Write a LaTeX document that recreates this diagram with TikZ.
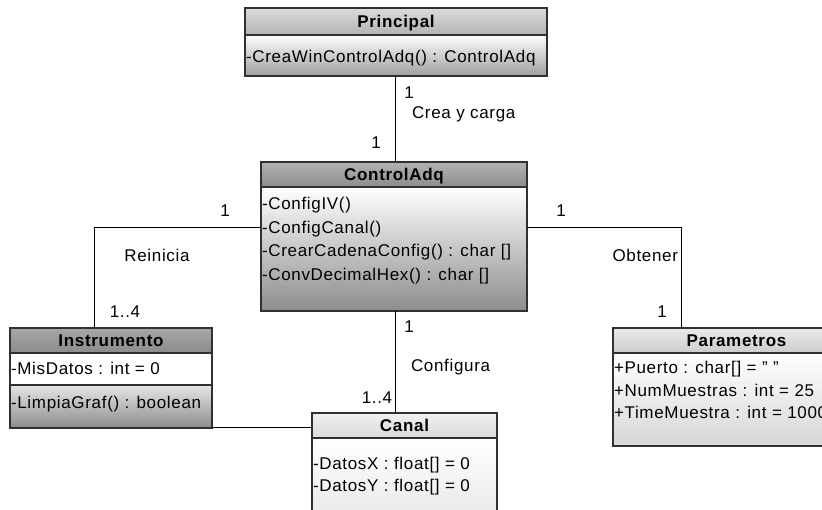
\documentclass[tikz,border=0pt]{standalone}
\usepackage{fontspec}
\setmainfont{Liberation Sans}[LetterSpace=4]
\definecolor{boxline}{HTML}{303030}
\begin{document}
\begin{tikzpicture}[x=1pt,y=-1pt,
  every node/.style={font=\fontsize{17}{20}\selectfont, inner sep=0pt, outer sep=0pt},
  txt/.style={text height=12pt, text depth=0pt},
  row/.style={txt, anchor=west},
  part/.style={draw=boxline, line width=1.3pt, rectangle, anchor=north west,
               minimum width=#1, inner sep=0pt},
  hdr/.style={font=\fontsize{17}{20}\selectfont\bfseries, text height=12pt, text depth=0pt},
  link/.style={draw=black, line width=1pt}
]
\clip (0,0) rectangle (822,510);
\fill[white] (0,0) rectangle (822,510);

% ---------- Principal ----------
\node[part=302pt, minimum height=41pt, top color=white, bottom color=black!38]
  (prinB) at (245,35) {};
\node[part=302pt, minimum height=27pt, top color=black!14, bottom color=black!30, hdr]
  (prinH) at (245,8) {Principal};
\node[row] (prinR1) at (246,57) {-CreaWinControlAdq() : ControlAdq};

% ---------- ControlAdq ----------
\node[part=266pt, minimum height=124pt, top color=white, bottom color=black!45]
  (ctrlB) at (261,187) {};
\node[part=266pt, minimum height=25pt, top color=black!30, bottom color=black!45, hdr]
  (ctrlH) at (261,162) {ControlAdq};
\node[row] (ctrlR1) at (262,204) {-ConfigIV()};
\node[row] (ctrlR2) at (262,227.5) {-ConfigCanal()};
\node[row] (ctrlR3) at (262,251) {-CrearCadenaConfig() : char []};
\node[row] (ctrlR4) at (262,274.5) {-ConvDecimalHex() : char []};

% ---------- Instrumento ----------
\node[part=202pt, minimum height=43pt, top color=black!10, bottom color=black!45]
  (instB2) at (10,385) {};
\node[part=202pt, minimum height=32pt, top color=white, bottom color=white]
  (instB1) at (10,353) {};
\node[part=202pt, minimum height=25pt, top color=black!35, bottom color=black!45, hdr]
  (instH) at (10,328) {Instrumento};
\node[row] (instR1) at (11,369) {-MisDatos : int = 0};
\node[row] (instR2) at (11,403) {-LimpiaGraf() : boolean};

% ---------- Canal ----------
\node[part=185pt, minimum height=92pt, top color=white, bottom color=black!10]
  (canB) at (312,438) {};
\node[part=185pt, minimum height=25pt, top color=black!6, bottom color=black!14, hdr]
  (canH) at (312,413) {Canal};
\node[row] (canR1) at (313,463) {-DatosX : float[] = 0};
\node[row] (canR2) at (313,485) {-DatosY : float[] = 0};

% ---------- Parametros ----------
\node[part=247pt, minimum height=93pt, top color=white, bottom color=black!16]
  (parB) at (613,353) {};
\node[part=247pt, minimum height=25pt, top color=black!8, bottom color=black!20, hdr]
  (parH) at (613,328) {Parametros};
\node[row] (parR1) at (614,368) {+Puerto : char[] = " "};
\node[row] (parR2) at (614,391) {+NumMuestras : int = 25};
\node[row] (parR3) at (614,413) {+TimeMuestra : int = 1000};

% ---------- Associations ----------
\coordinate (lj) at (94,228);
\coordinate (rj) at (681,228);
\coordinate (mx) at (395,0);
\draw[link] (prinB.south -| mx) -- (ctrlH.north -| mx);
\draw[link] (lj -| ctrlB.west) -- (lj) -- (lj |- instH.north);
\draw[link] (rj -| ctrlB.east) -- (rj) -- (rj |- parH.north);
\draw[link] (ctrlB.south -| mx) -- (canH.north -| mx);
\draw[link] (instB2.south east) -- (instB2.south east -| canH.west);

% ---------- Labels ----------
\node[txt] (m1) at (409,93) {1};
\node[txt, anchor=west] (a1) at (412,113) {Crea y carga};
\node[txt] (m2) at (376,143) {1};
\node[txt] (m3) at (225,211) {1};
\node[txt] (a2) at (157,256) {Reinicia};
\node[txt] (m4) at (125,312) {1..4};
\node[txt] (m5) at (561,211) {1};
\node[txt, anchor=east] (a3) at (678,256) {Obtener};
\node[txt] (m6) at (662,312) {1};
\node[txt] (m7) at (409,327) {1};
\node[txt, anchor=west] (a4) at (411,366) {Configura};
\node[txt] (m8) at (377,397) {1..4};
\end{tikzpicture}
\end{document}
